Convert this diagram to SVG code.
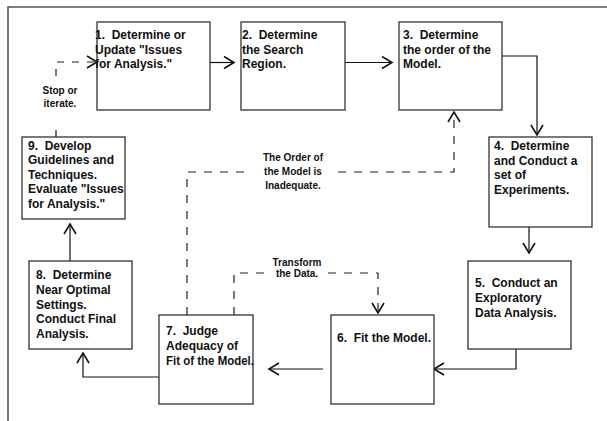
<svg xmlns="http://www.w3.org/2000/svg" width="607" height="421" viewBox="0 0 607 421">
<defs>
<marker id="arr" markerUnits="userSpaceOnUse" markerWidth="14" markerHeight="14" viewBox="-12 -7 14 14" refX="0" refY="0" orient="auto">
<path d="M-10,-6 L0,0 L-10,6" fill="none" stroke="#111" stroke-width="1.6" stroke-dasharray="none"/>
</marker>
</defs>
<style>
.box{fill:#fff;stroke:#333;stroke-width:1.3}
.t{font-family:"Liberation Sans",Arial,sans-serif;font-weight:bold;font-size:12px;fill:#111;white-space:pre}
.l{font-family:"Liberation Sans",Arial,sans-serif;font-weight:bold;font-size:10px;fill:#111;text-anchor:middle}
.c{fill:none;stroke:#111;stroke-width:1.2}
.d{fill:none;stroke:#222;stroke-width:1.2;stroke-dasharray:8,8}
.frame{fill:none;stroke:#555;stroke-width:1.6}
</style>
<rect width="607" height="421" fill="#fff"/>
<path class="frame" d="M8,421 V7 H607"/>
<g id="connectors">
<path class="c" d="M210,62.5 H234" marker-end="url(#arr)"/>
<path class="c" d="M345,62.5 H392" marker-end="url(#arr)"/>
<path class="c" d="M502,56 H537 V135" marker-end="url(#arr)"/>
<path class="c" d="M529,227 V253" marker-end="url(#arr)"/>
<path class="c" d="M516,349 V369 H434" marker-end="url(#arr)"/>
<path class="c" d="M323,369 H269" marker-end="url(#arr)"/>
<path class="c" d="M159,377 H83 V353" marker-end="url(#arr)"/>
<path class="c" d="M70,261 V224" marker-end="url(#arr)"/>
<path class="c" d="M56,137 V130"/>
<path class="d" d="M56,76 V62 H97" style="stroke-dasharray:7,8" marker-end="url(#arr)"/>
<path class="d" d="M187,315 V172 H247"/>
<path class="d" d="M338,172 H454 V112" marker-end="url(#arr)"/>
<path class="d" d="M234,315 V273 H267"/>
<path class="d" d="M328,273 H378 V313" marker-end="url(#arr)"/>
<text class="l" x="60" y="94">Stop or</text>
<text class="l" x="60" y="107">iterate.</text>
<text class="l" x="293" y="161">The Order of</text>
<text class="l" x="293" y="175">the Model is</text>
<text class="l" x="293" y="189">Inadequate.</text>
<text class="l" x="297" y="266">Transform</text>
<text class="l" x="297" y="277">the Data.</text>
</g>
<g id="n1"><rect class="box" x="97" y="22" width="113" height="88"/>
<text class="t" x="95" y="39">1.  Determine or</text><text class="t" x="95" y="53.5">Update "Issues</text><text class="t" x="95" y="68">for Analysis."</text></g>
<g id="n2"><rect class="box" x="241" y="22" width="104" height="88"/>
<text class="t" x="242" y="39">2.  Determine</text><text class="t" x="242" y="53.5">the Search</text><text class="t" x="242" y="68">Region.</text></g>
<g id="n3"><rect class="box" x="399" y="22" width="103" height="88"/>
<text class="t" x="403" y="39">3.  Determine</text><text class="t" x="403" y="53.5">the order of the</text><text class="t" x="403" y="68">Model.</text></g>
<g id="n4"><rect class="box" x="489" y="137" width="103" height="90"/>
<text class="t" x="494" y="150">4.  Determine</text><text class="t" x="494" y="164.5">and Conduct a</text><text class="t" x="494" y="179">set of</text><text class="t" x="494" y="193.5">Experiments.</text></g>
<g id="n5"><rect class="box" x="468" y="261" width="103" height="88"/>
<text class="t" x="475" y="287">5.  Conduct an</text><text class="t" x="475" y="302">Exploratory</text><text class="t" x="475" y="317">Data Analysis.</text></g>
<g id="n6"><rect class="box" x="331" y="315" width="103" height="89"/>
<text class="t" x="337" y="342">6.  Fit the Model.</text></g>
<g id="n7"><rect class="box" x="159" y="315" width="94" height="89"/>
<text class="t" x="166" y="335">7.  Judge</text><text class="t" x="166" y="350">Adequacy of</text><text class="t" x="166" y="364.5" textLength="88" lengthAdjust="spacingAndGlyphs">Fit of the Model.</text></g>
<g id="n8"><rect class="box" x="29" y="261" width="103" height="88"/>
<text class="t" x="36" y="279">8.  Determine</text><text class="t" x="36" y="294">Near Optimal</text><text class="t" x="36" y="308.5">Settings.</text><text class="t" x="36" y="323">Conduct Final</text><text class="t" x="36" y="337.5">Analysis.</text></g>
<g id="n9"><rect class="box" x="22" y="137" width="103" height="82"/>
<text class="t" x="28" y="149.5">9.  Develop</text><text class="t" x="28" y="164">Guidelines and</text><text class="t" x="28" y="178.5">Techniques.</text><text class="t" x="28" y="193">Evaluate "Issues</text><text class="t" x="28" y="207.5">for Analysis."</text></g>
</svg>
